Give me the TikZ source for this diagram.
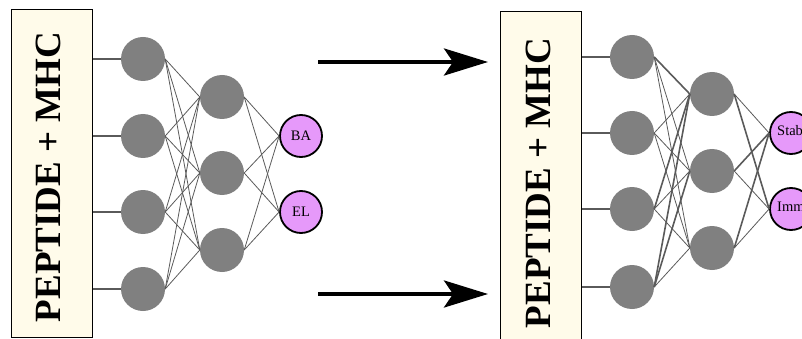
\documentclass[tikz,border=0pt]{standalone}
\usepackage{fontspec}
\setmainfont{Liberation Serif}
\usetikzlibrary{arrows.meta}
\definecolor{boxfill}{RGB}{255,251,234}
\definecolor{unitgray}{RGB}{128,128,128}
\definecolor{outfill}{RGB}{230,153,250}
\definecolor{wirecol}{RGB}{90,90,90}
\begin{document}
\begin{tikzpicture}[x=1pt,y=-1pt,
  inbox/.style={draw=black, line width=1pt, fill=boxfill, minimum width=81pt, inner sep=0pt},
  boxtext/.style={rotate=90, inner sep=0pt, font=\bfseries\fontsize{37}{40}\selectfont},
  unit/.style={circle, fill=unitgray, minimum size=44pt, inner sep=0pt},
  outunit/.style={circle, draw=black, line width=1.8pt, fill=outfill, minimum size=42pt, inner sep=0pt},
  outlabel/.style={font=\fontsize{14.5}{16}\selectfont, inner sep=0pt},
  wire/.style={draw=wirecol, line width=0.8pt},
  heavy/.style={draw=wirecol, line width=1.6pt},
  feed/.style={draw=wirecol, line width=1.2pt},
  bigarrow/.style={line width=4pt, -{Stealth[length=44pt,width=27pt,inset=9pt]}}
]
\useasboundingbox (0,0) rectangle (802,339);
\clip (0,0) rectangle (802,339);

% ---------- first network ----------
\node[inbox, minimum height=327pt] (boxA) at (51.5,173.5) {};
\node[boxtext] (textA) at (48.5,177) {PEPTIDE + MHC};

\node[unit] (a1) at (143,59) {};
\node[unit] (a2) at (143,136) {};
\node[unit] (a3) at (143,212) {};
\node[unit] (a4) at (143,289) {};
\node[unit] (b1) at (222,97) {};
\node[unit] (b2) at (222,173) {};
\node[unit] (b3) at (222,250) {};
\node[outunit] (c1) at (301,136) {};
\node[outunit] (c2) at (301,212) {};
\node[outlabel] (ba) at (c1) {BA};
\node[outlabel] (el) at (c2) {EL};

\foreach \i in {1,...,4} {
  \draw[feed] (boxA.east |- a\i) -- (a\i.west);
  \foreach \j in {1,2,3} \draw[wire] (a\i.east) -- (b\j.west);
}
\foreach \j in {1,2,3} \foreach \k in {1,2} \draw[wire] (b\j.east) -- (c\k.west);

% ---------- arrows between the two networks ----------
\coordinate (arrTopS) at (318,62);
\coordinate (arrTopE) at (488,62);
\coordinate (arrBotS) at (318,294);
\coordinate (arrBotE) at (488,294);
\draw[bigarrow] (arrTopS) -- (arrTopE);
\draw[bigarrow] (arrBotS) -- (arrBotE);

% ---------- second network ----------
\node[inbox, minimum height=333pt] (boxB) at (541,178.5) {};
\node[boxtext] (textB) at (538.5,183) {PEPTIDE + MHC};

\node[unit] (p1) at (632,57) {};
\node[unit] (p2) at (632,133) {};
\node[unit] (p3) at (632,209) {};
\node[unit] (p4) at (632,287) {};
\node[unit] (q1) at (712,94) {};
\node[unit] (q2) at (712,171) {};
\node[unit] (q3) at (712,248) {};
\node[outunit] (r1) at (791,133) {};
\node[outunit] (r2) at (791,209) {};
\node[outlabel, anchor=west] (stab) at (777,131) {Stab};
\node[outlabel, anchor=west] (imm) at (777,207) {Imm};

\foreach \i in {1,...,4} \draw[feed] (boxB.east |- p\i) -- (p\i.west);
% thin connections
\foreach \i/\j in {1/2,1/3,2/1,2/2,2/3,3/2,3/3,4/3} \draw[wire] (p\i.east) -- (q\j.west);
% strengthened connections
\foreach \i/\j in {1/1,3/1,4/1,4/2} \draw[heavy] (p\i.east) -- (q\j.west);
\foreach \j/\k in {1/1,2/2,3/2} \draw[wire] (q\j.east) -- (r\k.west);
\foreach \j/\k in {1/2,2/1,3/1} \draw[heavy] (q\j.east) -- (r\k.west);
\end{tikzpicture}
\end{document}
